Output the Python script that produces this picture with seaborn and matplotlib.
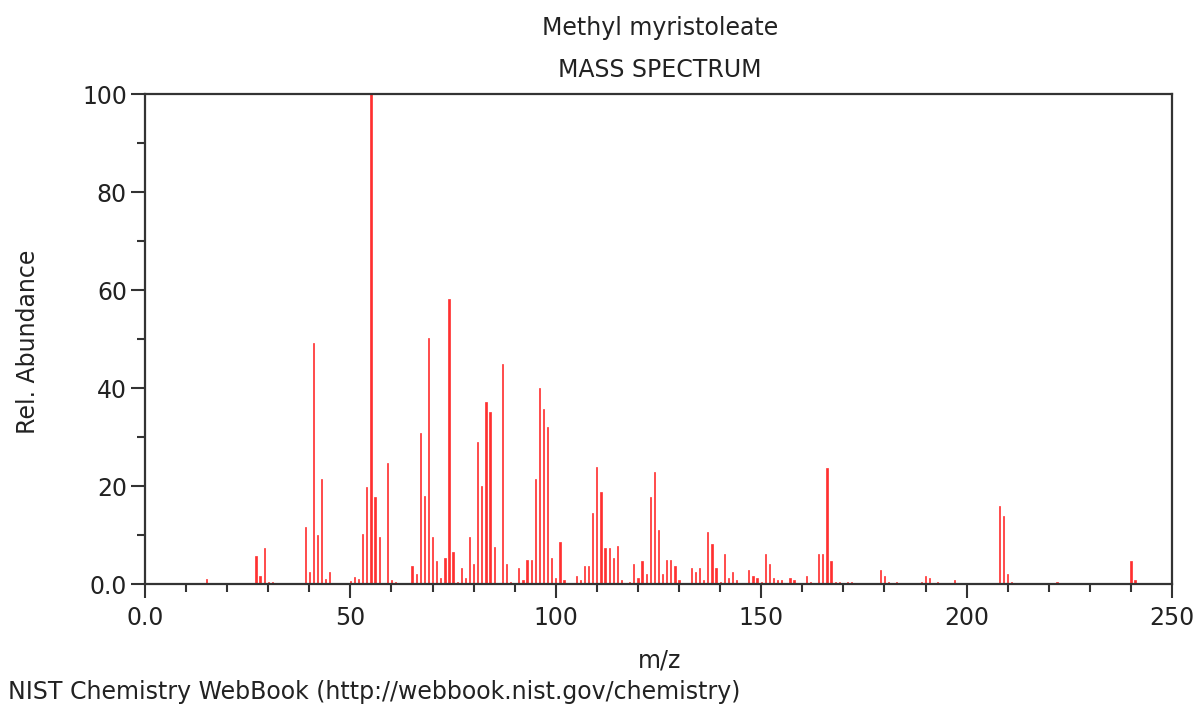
import matplotlib
matplotlib.use("Agg")
import matplotlib.pyplot as plt
from matplotlib.ticker import MultipleLocator, FixedLocator
import seaborn as sns
import pandas as pd

title_name = "Methyl myristoleate"
title_kind = "MASS SPECTRUM"
x_label = "m/z"
y_label = "Rel. Abundance"
footer = "NIST Chemistry WebBook (http://webbook.nist.gov/chemistry)"

mz = [15, 27, 28, 29, 30, 31, 33, 39, 40, 41, 42, 43, 44, 45, 46, 50, 51, 52, 53, 54,
      55, 56, 57, 59, 60, 61, 62, 63, 64, 65, 66, 67, 68, 69, 70, 71, 72, 73, 74, 75,
      76, 77, 78, 79, 80, 81, 82, 83, 84, 85, 87, 88, 89, 91, 92, 93, 94, 95, 96, 97,
      98, 99, 100, 101, 102, 105, 106, 107, 108, 109, 110, 111, 112, 113, 114, 115, 116,
      118, 119, 120, 121, 122, 123, 124, 125, 126, 127, 128, 129, 130, 133, 134, 135,
      136, 137, 138, 139, 140, 141, 142, 143, 144, 147, 148, 149, 150, 151, 152, 153,
      154, 155, 157, 158, 161, 162, 164, 165, 166, 167, 168, 169, 171, 172, 175, 177,
      179, 180, 181, 183, 184, 185, 189, 190, 191, 192, 193, 194, 197, 198, 199, 208,
      209, 210, 211, 212, 222, 223, 240, 241, 242]
abundance = [1.0, 5.8, 1.7, 7.4, 0.5, 0.5, 0.3, 11.6, 2.5, 49.1, 9.9, 21.4, 1.0, 2.5, 0.3,
             0.6, 1.4, 1.0, 10.3, 19.7, 100.0, 17.7, 9.5, 24.6, 0.9, 0.5, 0.2, 0.2, 0.2,
             3.7, 2.1, 30.8, 18.0, 50.3, 9.5, 4.6, 1.3, 5.4, 58.1, 6.6, 0.5, 3.3, 1.3,
             9.5, 4.1, 29.0, 20.1, 37.2, 35.2, 7.5, 45.0, 4.1, 0.5, 3.3, 0.9, 5.0, 5.0,
             21.4, 40.1, 35.7, 32.0, 5.4, 1.3, 8.6, 0.9, 1.7, 0.8, 3.7, 3.7, 14.4, 23.8,
             18.8, 7.4, 7.4, 5.4, 7.8, 0.8, 0.5, 4.1, 1.3, 4.6, 2.1, 17.7, 22.9, 11.1,
             2.1, 5.0, 5.0, 3.7, 0.8, 3.3, 2.5, 3.3, 0.8, 10.7, 8.2, 3.3, 0.5, 6.2, 1.3,
             2.5, 0.8, 2.9, 1.7, 1.3, 0.5, 6.2, 4.1, 1.3, 0.8, 0.8, 1.3, 0.8, 1.7, 0.5,
             6.2, 6.2, 23.7, 4.6, 0.5, 0.5, 0.5, 0.5, 0.2, 0.2, 2.9, 1.7, 0.5, 0.5, 0.2,
             0.2, 0.5, 1.7, 1.3, 0.3, 0.5, 0.2, 0.9, 0.2, 0.2, 16.0, 13.9, 2.1, 0.5, 0.2,
             0.5, 0.2, 4.6, 0.9, 0.2]
x_ticks = [0, 50, 100, 150, 200, 250]
x_tick_labels = ["0.0", "50", "100", "150", "200", "250"]
y_ticks = [0, 20, 40, 60, 80, 100]
y_tick_labels = ["0.0", "20", "40", "60", "80", "100"]

assert len(mz) == len(abundance)
df = pd.DataFrame({"mz": mz, "abundance": abundance})

plt.rcParams["font.family"] = ["DejaVu Sans"]
W, H = 1203, 712
fig = plt.figure(figsize=(W / 100, H / 100), dpi=100)
ax = fig.add_axes([145 / W, 1 - 584 / H, (1172 - 145) / W, (584 - 94) / H])

bar_col = "#ff3030"
sns.barplot(data=df, x="mz", y="abundance", native_scale=True, width=0.3,
            color=bar_col, saturation=1, edgecolor=bar_col, linewidth=0.5, ax=ax)

ax.set_xlim(0, 250)
ax.set_ylim(0, 100)
spine_col = "#333333"
for s in ax.spines.values():
    s.set_color(spine_col)
    s.set_linewidth(1.6)
    s.set_zorder(5)

fs = 17
txt_col = "#222222"
ax.xaxis.set_major_locator(FixedLocator(x_ticks))
ax.set_xticklabels(x_tick_labels)
ax.xaxis.set_minor_locator(MultipleLocator(10))
ax.yaxis.set_major_locator(FixedLocator(y_ticks))
ax.set_yticklabels(y_tick_labels)
ax.yaxis.set_minor_locator(MultipleLocator(10))
ax.tick_params(which="major", direction="out", length=10, width=1.5, color=spine_col,
               labelsize=fs, labelcolor=txt_col, pad=3)
ax.tick_params(which="minor", direction="out", length=6, width=1.5, color=spine_col)
ax.tick_params(axis="x", which="major", pad=6)

ax.set_xlabel("")
ax.set_ylabel("")
fig.text(660 / W, 1 - 660 / H, x_label, ha="center", va="center", fontsize=fs, color=txt_col)
fig.text(28 / W, 1 - 342 / H, y_label, ha="center", va="center", rotation=90,
         fontsize=fs, color=txt_col)
fig.text(660 / W, 1 - 28 / H, title_name, ha="center", va="center", fontsize=fs, color=txt_col)
fig.text(660 / W, 1 - 70 / H, title_kind, ha="center", va="center", fontsize=fs, color=txt_col)
fig.text(8 / W, 1 - 692 / H, footer, ha="left", va="center", fontsize=fs, color=txt_col)

fig.savefig("out.png", dpi=100, facecolor="white")
